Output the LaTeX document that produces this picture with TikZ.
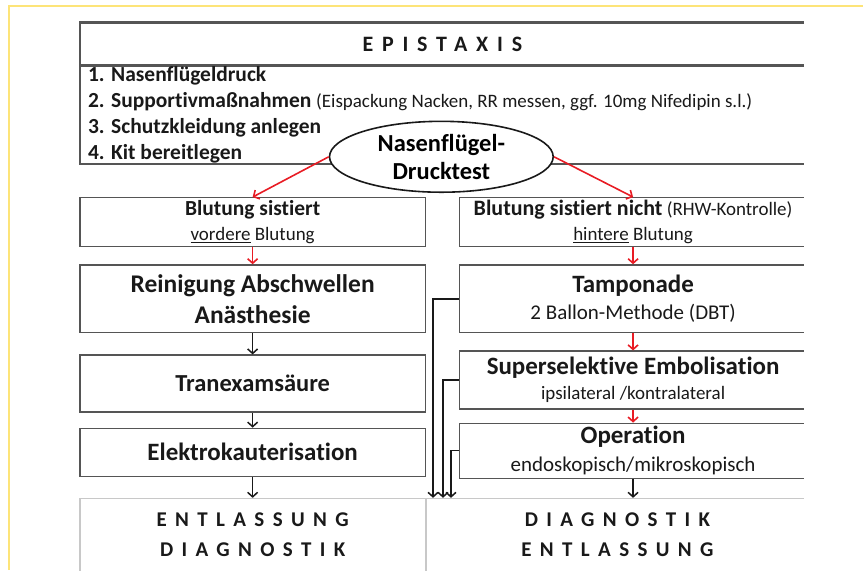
\documentclass[tikz,border=0pt]{standalone}
\usepackage{fontspec}
\setmainfont{Carlito}[Ligatures=NoCommon]
\newfontfamily\spacedfont[LetterSpace=40]{Carlito}
\usetikzlibrary{positioning,arrows,arrows.meta,shapes.geometric,calc}
\definecolor{colorframe}{RGB}{253,228,120}
\definecolor{colorline} {RGB}{ 85, 85, 85}
\definecolor{colorlight}{RGB}{200,200,200}
\definecolor{colorred}  {RGB}{232, 28, 36}
\definecolor{colortext} {RGB}{ 25, 25, 25}
\newcommand{\fs}[2]{\fontsize{#1}{#2}\selectfont}

\begin{document}
\begin{tikzpicture}[
    x=1pt, y=-1pt,
    node distance = 17pt,
    >={Straight Barb[length=4.5pt,width=10pt]},
    box/.style={draw=colorline,line width=1.3pt,rectangle,inner sep=0pt,align=center,text=colortext},
    lbox/.style={box,minimum width=346pt},
    rbox/.style={box,minimum width=348pt},
    endbox/.style={box,draw=colorlight,minimum height=73pt,font={\spacedfont\bfseries\fs{21}{30}}},
    item/.style={anchor=west,inner sep=0pt,text=colortext,font={\bfseries\fs{21.5}{24}}},
    black/.style={->,line width=1.5pt,color=colortext},
    red/.style={->,line width=1.6pt,color=colorred},
]

    \draw[colorframe,line width=2.5pt] (9,571) -- (9,6) -- (864,6);
    \useasboundingbox (0,0) rectangle (864,571);

    \begin{scope}
    \clip (0,0) rectangle (805,571);

    % kopf
    \node[box,minimum width=726pt,minimum height=42pt,font={\spacedfont\bfseries\fs{22}{24}}] (epistaxis) at (443,44) {EPISTAXIS};
    \draw[colorline,line width=2.2pt] (epistaxis.north west) -- (epistaxis.north east);
    \node[box,minimum width=726pt,minimum height=98pt,below=0pt of epistaxis] (liste) {};

    \node[item] (item1) at (88,76)  {1. Nasenflügeldruck};
    \node[item] (item2) at (88,102) {2. Supportivmaßnahmen {\mdseries\fs{19}{22}(Eispackung Nacken, RR messen, ggf. 10mg Nifedipin s.l.)}};
    \node[item] (item3) at (88,128) {3. Schutzkleidung anlegen};
    \node[item] (item4) at (88,154) {4. Kit bereitlegen};

    \node[ellipse,draw=colortext,line width=1.6pt,fill=white,minimum width=224pt,minimum height=71pt,inner sep=0pt,align=center,font={\bfseries\fs{24.5}{28}}] (test) at (442,157) {Nasenflügel-\\Drucktest};

    % links
    \node[lbox,minimum height=49pt,font={\fs{19}{25}}] (sist) at (253,222.5) {{\bfseries\fs{21.5}{25}Blutung sistiert}\\\underline{vordere} Blutung};
    \node[lbox,minimum height=68pt,below=17pt of sist,font={\bfseries\fs{25.5}{31}}] (reinigung) {Reinigung Abschwellen\\Anästhesie};
    \node[lbox,minimum height=57pt,below=21pt of reinigung,font={\bfseries\fs{24.5}{28}}] (tranex) {Tranexamsäure};
    \node[lbox,minimum height=48pt,below=15pt of tranex,font={\bfseries\fs{25}{28}}] (elektro) {Elektrokauterisation};
    \node[endbox,minimum width=346pt,below=21pt of elektro] (entl) {ENTLASSUNG\\DIAGNOSTIK};

    % rechts
    \node[rbox,minimum height=49pt,font={\fs{19}{25}}] (nsist) at (634,222.5) {{\bfseries\fs{22}{25}Blutung sistiert nicht} (RHW-Kontrolle)\\\underline{hintere} Blutung};
    \node[rbox,minimum height=68pt,below=17pt of nsist,font={\fs{21}{27}}] (tampon) {{\bfseries\fs{25}{27}Tamponade}\\2 Ballon-Methode (DBT)};
    \node[rbox,minimum height=58pt,below=17pt of tampon,font={\fs{19}{25}}] (embol) {{\bfseries\fs{25}{25}Superselektive Embolisation}\\ipsilateral /kontralateral};
    \node[rbox,minimum height=55pt,below=13pt of embol,font={\fs{21}{28}}] (op) {{\bfseries\fs{25}{28}Operation}\\endoskopisch/mikroskopisch};
    \node[endbox,minimum width=382pt,anchor=north west] (diag) at (entl.north east) {DIAGNOSTIK\\ENTLASSUNG};

    % pfeile
    \draw[red] (test.west) -- (sist.north);
    \draw[red] (test.east) -- (nsist.north);
    \draw[red] (sist) -- (reinigung);
    \draw[black] (reinigung) -- (tranex);
    \draw[black] (tranex) -- (elektro);
    \draw[black] (elektro) -- (entl);
    \draw[red] (nsist.south) -- (tampon.north);
    \draw[red] (tampon) -- (embol);
    \draw[red] (embol) -- (op);
    \draw[black] (op.south) -- (op.south |- diag.north);
    \draw[black] (tampon.west) -| ([xshift=7pt]diag.north west);
    \draw[black] (embol.west) -| ([xshift=17pt]diag.north west);
    \draw[black] (op.west) -| ([xshift=25pt]diag.north west);
    \end{scope}

\end{tikzpicture}
\end{document}
